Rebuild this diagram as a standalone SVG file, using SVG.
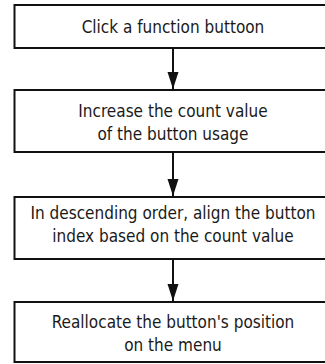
<svg xmlns="http://www.w3.org/2000/svg" width="325" height="364" viewBox="0 0 325 364">
<style>
.box{fill:#fff;stroke:#111;stroke-width:2}
.t{font-family:"DejaVu Sans Condensed","DejaVu Sans",sans-serif;font-size:17px;fill:#1a1a1a;text-anchor:middle}
.c{stroke:#111;stroke-width:2;fill:none;marker-end:url(#ah)}
</style>
<defs>
<marker id="ah" markerUnits="userSpaceOnUse" markerWidth="17" markerHeight="12" refX="17" refY="5.5" orient="auto">
<path d="M0,0 L17,5.5 L0,11 z" fill="#111"/>
</marker>
</defs>
<rect width="325" height="364" fill="#fff"/>
<g id="connectors">
<path class="c" d="M173,48 V89"/>
<path class="c" d="M173,152 V196"/>
<path class="c" d="M173,259 V301"/>
</g>
<g id="n1">
<rect class="box" x="14.5" y="5" width="317" height="43"/>
<text class="t" x="173" y="33">Click a function buttoon</text>
</g>
<g id="n2">
<rect class="box" x="14.5" y="90" width="317" height="62"/>
<text class="t" x="173" y="117">Increase the count value</text>
<text class="t" x="173" y="140">of the button usage</text>
</g>
<g id="n3">
<rect class="box" x="14.5" y="197" width="317" height="62"/>
<text class="t" x="173" y="219">In descending order, align the button</text>
<text class="t" x="173" y="242">index based on the count value</text>
</g>
<g id="n4">
<rect class="box" x="14.5" y="302" width="317" height="60"/>
<text class="t" x="173" y="328">Reallocate the button's position</text>
<text class="t" x="173" y="351">on the menu</text>
</g>
</svg>
